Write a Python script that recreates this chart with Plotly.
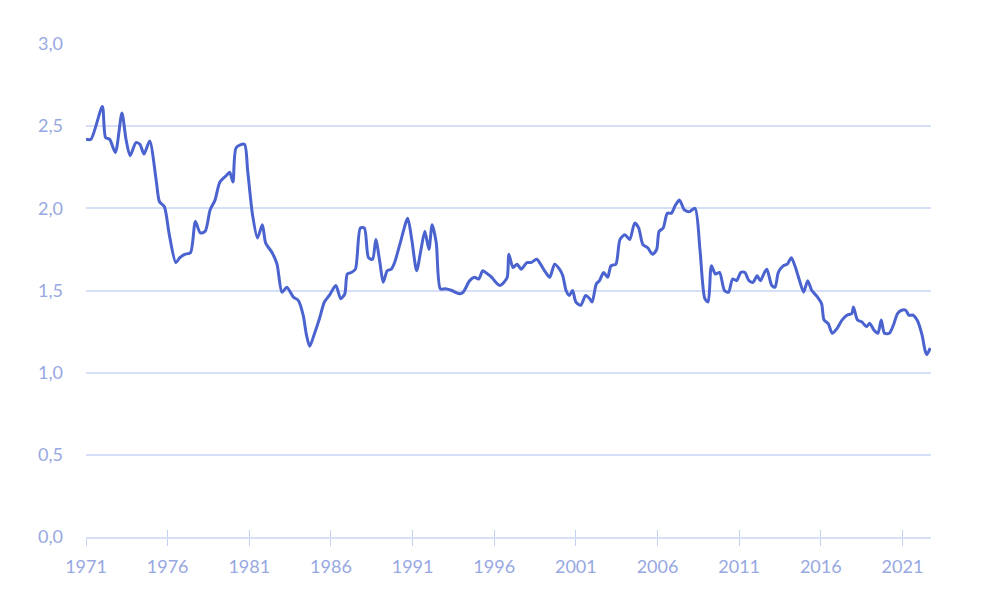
import plotly.graph_objects as go

years = [1971.0, 1971.3, 1972.0, 1972.2, 1972.45, 1972.8, 1973.2, 1973.45, 1973.7, 1974.06, 1974.3,
         1974.55, 1974.9, 1975.3, 1975.5, 1975.8, 1976.1, 1976.5, 1976.75, 1977.05, 1977.4, 1977.7,
         1978.0, 1978.3, 1978.6, 1978.9, 1979.2, 1979.6, 1979.8, 1980.0, 1980.2, 1980.7, 1980.9,
         1981.2, 1981.5, 1981.8, 1982.0, 1982.4, 1982.7, 1983.0, 1983.3, 1983.7, 1984.0, 1984.3,
         1984.5, 1984.7, 1985.0, 1985.3, 1985.6, 1985.9, 1986.3, 1986.6, 1986.85, 1987.0, 1987.25,
         1987.5, 1987.8, 1988.05, 1988.3, 1988.55, 1988.75, 1989.0, 1989.2, 1989.45, 1989.7, 1989.9,
         1990.3, 1990.7, 1990.95, 1991.25, 1991.5, 1991.75, 1992.0, 1992.2, 1992.45, 1992.7, 1993.0,
         1993.4, 1993.6, 1993.9, 1994.1, 1994.5, 1994.8, 1995.05, 1995.3, 1995.6, 1995.85, 1996.1,
         1996.35, 1996.6, 1996.8, 1996.9, 1997.15, 1997.4, 1997.65, 1998.0, 1998.25, 1998.6, 1998.9,
         1999.15, 1999.4, 1999.7, 2000.0, 2000.2, 2000.4, 2000.6, 2000.8, 2001.0, 2001.3, 2001.6,
         2001.85, 2002.0, 2002.25, 2002.45, 2002.7, 2002.95, 2003.15, 2003.45, 2003.7, 2004.0,
         2004.3, 2004.6, 2004.85, 2005.1, 2005.4, 2005.7, 2005.95, 2006.1, 2006.35, 2006.6, 2006.85,
         2007.1, 2007.35, 2007.65, 2007.95, 2008.3, 2008.6, 2008.9, 2009.1, 2009.3, 2009.55, 2009.8,
         2010.1, 2010.35, 2010.6, 2010.85, 2011.1, 2011.35, 2011.6, 2011.85, 2012.1, 2012.3, 2012.55,
         2012.7, 2013.0, 2013.2, 2013.4, 2013.7, 2013.95, 2014.2, 2014.45, 2014.7, 2014.95, 2015.2,
         2015.45, 2015.8, 2016.05, 2016.2, 2016.45, 2016.7, 2017.0, 2017.3, 2017.6, 2017.9, 2018.0,
         2018.25, 2018.5, 2018.8, 2019.0, 2019.25, 2019.5, 2019.7, 2019.9, 2020.2, 2020.45, 2020.7,
         2020.95, 2021.2, 2021.4, 2021.65, 2021.9, 2022.2, 2022.4, 2022.5, 2022.7]

values = [2.42, 2.42, 2.62, 2.43, 2.42, 2.34, 2.58, 2.42, 2.32, 2.40, 2.39,
          2.33, 2.41, 2.17, 2.04, 2.01, 1.84, 1.67, 1.70, 1.72, 1.73, 1.92,
          1.85, 1.86, 1.99, 2.05, 2.16, 2.20, 2.22, 2.16, 2.37, 2.39, 2.23,
          1.96, 1.82, 1.90, 1.79, 1.73, 1.66, 1.49, 1.52, 1.46, 1.44, 1.35,
          1.23, 1.16, 1.24, 1.33, 1.43, 1.47, 1.53, 1.45, 1.48, 1.60, 1.61,
          1.63, 1.88, 1.88, 1.70, 1.69, 1.81, 1.67, 1.55, 1.62, 1.63, 1.67,
          1.81, 1.94, 1.81, 1.62, 1.74, 1.86, 1.75, 1.90, 1.79, 1.51, 1.51,
          1.50, 1.49, 1.48, 1.49, 1.56, 1.58, 1.57, 1.62, 1.60, 1.58, 1.55,
          1.53, 1.55, 1.58, 1.72, 1.64, 1.66, 1.63, 1.67, 1.67, 1.69, 1.65,
          1.61, 1.58, 1.66, 1.63, 1.59, 1.50, 1.47, 1.50, 1.43, 1.41, 1.47,
          1.45, 1.43, 1.54, 1.56, 1.61, 1.58, 1.65, 1.66, 1.81, 1.84,
          1.81, 1.91, 1.88, 1.78, 1.76, 1.72, 1.75, 1.86, 1.88, 1.97, 1.97,
          2.02, 2.05, 1.99, 1.98, 2.00, 1.75, 1.45, 1.43, 1.65, 1.60, 1.61,
          1.50, 1.49, 1.57, 1.56, 1.61, 1.61, 1.56, 1.55, 1.59, 1.56, 1.61,
          1.63, 1.53, 1.52, 1.61, 1.65, 1.66, 1.70, 1.64, 1.56, 1.49, 1.56,
          1.50, 1.46, 1.42, 1.32, 1.30, 1.24, 1.27, 1.32, 1.35, 1.36, 1.40,
          1.32, 1.31, 1.28, 1.30, 1.26, 1.24, 1.32, 1.24, 1.24, 1.29, 1.36,
          1.38, 1.38, 1.35, 1.35, 1.32, 1.23, 1.13, 1.11, 1.15]

tick_years = [1971, 1976, 1981, 1986, 1991, 1996, 2001, 2006, 2011, 2016, 2021]
y_ticks = [0, 0.5, 1.0, 1.5, 2.0, 2.5, 3.0]

line_color = "#4a63cf"
label_color = "#97a8e2"
grid_color = "#d6dff8"
font_family = "Lato, 'Noto Sans', sans-serif"

fig = go.Figure()
fig.add_trace(go.Scatter(
    x=years, y=values, mode="lines",
    line=dict(color=line_color, width=3, shape="spline", smoothing=0.7),
    hoverinfo="x+y", showlegend=False,
))
# invisible trace to drive the overlaid axis (tick marks inside)
fig.add_trace(go.Scatter(x=[years[0], years[-1]], y=[values[0], values[-1]], mode="lines",
                         line=dict(width=0), xaxis="x2", showlegend=False, hoverinfo="skip"))

xrange = [1971, 2022.75]
fig.update_layout(
    width=992, height=613,
    margin=dict(l=86, r=61, t=44, b=76),
    paper_bgcolor="white", plot_bgcolor="white",
    separators=",.",
    font=dict(family=font_family, color=label_color, size=18),
    xaxis=dict(
        range=xrange, tickvals=tick_years, ticktext=[str(t) for t in tick_years],
        showgrid=False, zeroline=False,
        showline=True, linecolor=grid_color, linewidth=1.5,
        ticks="outside", ticklen=7, tickcolor="#c5d0f2", tickwidth=1.2,
        tickfont=dict(size=18, color=label_color),
        ticklabelstandoff=6,
    ),
    xaxis2=dict(
        range=xrange, tickvals=tick_years, overlaying="x", side="bottom",
        showticklabels=False, showgrid=False, zeroline=False, showline=False,
        ticks="inside", ticklen=7, tickcolor="#c5d0f2", tickwidth=1.2,
        anchor="y",
    ),
    yaxis=dict(
        range=[0, 3.0], tickvals=y_ticks, tickformat=".1f",
        showgrid=True, gridcolor=grid_color, gridwidth=1.5,
        zeroline=False, showline=False, ticks="",
        tickfont=dict(size=18, color=label_color),
        ticklabelstandoff=22,
    ),
)

fig.write_html("out.html")
